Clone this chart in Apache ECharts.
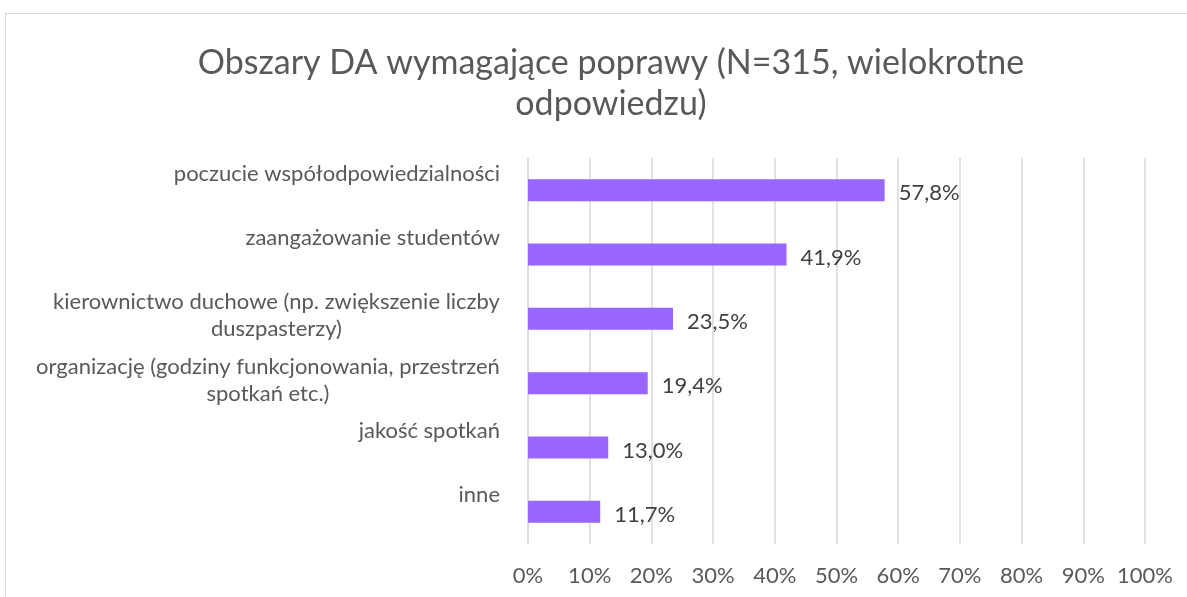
<!DOCTYPE html>
<html>
<head>
<meta charset="utf-8">
<script src="https://cdn.jsdelivr.net/npm/echarts@6/dist/echarts.min.js"></script>
<style>
  html, body { margin: 0; padding: 0; background: #fff; overflow: hidden; }
  #chart { width: 1187px; height: 597px; }
  #frame { position: absolute; left: 5px; top: 13px; width: 1300px; height: 700px;
           border: 1px solid #d9d9d9; box-sizing: border-box; pointer-events: none; }
</style>
</head>
<body>
<div id="frame"></div>
<div id="chart"></div>
<script>
// kategorie (od góry)
var categories = [
    'poczucie współodpowiedzialności',
    'zaangażowanie studentów',
    'kierownictwo duchowe (np. zwiększenie liczby\nduszpasterzy)',
    'organizację (godziny funkcjonowania, przestrzeń\nspotkań etc.)',
    'jakość spotkań',
    'inne'
];
// odsetek odpowiedzi w %
var values = [57.8, 41.9, 23.5, 19.4, 13.0, 11.7];
var ticks = [0, 10, 20, 30, 40, 50, 60, 70, 80, 90, 100];

var chart = echarts.init(document.getElementById('chart'));

// zawijane etykiety: druga linia wyśrodkowana pod pierwszą (jak w Excelu)
var ctx = document.createElement('canvas').getContext('2d');
ctx.font = '22px Lato';
var rich = {};
categories.forEach(function (c, i) {
    var lines = c.split('\n');
    var w = Math.max.apply(null, lines.map(function (l) { return ctx.measureText(l).width; }));
    rich['l' + i] = {
        width: Math.ceil(w),
        align: 'center',
        fontFamily: 'Lato',
        fontSize: 22,
        lineHeight: 27,
        color: '#595959'
    };
});

var option = {
    animation: false,
    title: {
        text: 'Obszary DA wymagające poprawy (N=315, wielokrotne\nodpowiedzu)',
        left: 606,
        top: 38,
        textAlign: 'center',
        textStyle: {
            fontFamily: 'Lato',
            fontWeight: 'normal',
            fontSize: 34,
            lineHeight: 41,
            color: '#595959'
        }
    },
    grid: {
        left: 528,
        right: 42,
        top: 158,
        bottom: 53
    },
    xAxis: {
        type: 'value',
        min: ticks[0],
        max: ticks[ticks.length - 1],
        interval: 10,
        axisLine: { show: false },
        axisTick: { show: false },
        axisLabel: {
            formatter: '{value}%',
            margin: 21,
            fontFamily: 'Lato',
            fontSize: 22,
            color: '#595959'
        },
        splitLine: { lineStyle: { color: '#d9d9d9', width: 1.5 } }
    },
    yAxis: {
        type: 'category',
        inverse: true,
        data: categories,
        axisLine: { show: true, lineStyle: { color: '#d9d9d9', width: 1.5 } },
        axisTick: { show: false },
        axisLabel: {
            interval: 0,
            margin: 28,
            align: 'right',
            fontFamily: 'Lato',
            fontSize: 22,
            lineHeight: 27,
            color: '#595959',
            padding: [0, 0, 6, 0],
            rich: rich,
            // etykiety wyrównane do góry
            formatter: function (v, i) {
                var lines = v.split('\n');
                if (lines.length < 2) return v + '\n ';
                return lines.map(function (l) { return '{l' + i + '|' + l + '}'; }).join('\n');
            }
        }
    },
    series: [{
        type: 'bar',
        data: values,
        barWidth: 22,
        itemStyle: { color: '#9966ff' },
        label: {
            show: true,
            position: 'right',
            distance: 14,
            offset: [0, 3],
            fontFamily: 'Lato',
            fontSize: 22,
            color: '#404040',
            formatter: function (p) {
                return p.value.toFixed(1).replace('.', ',') + '%';
            }
        }
    }]
};

chart.setOption(option);
</script>
</body>
</html>
